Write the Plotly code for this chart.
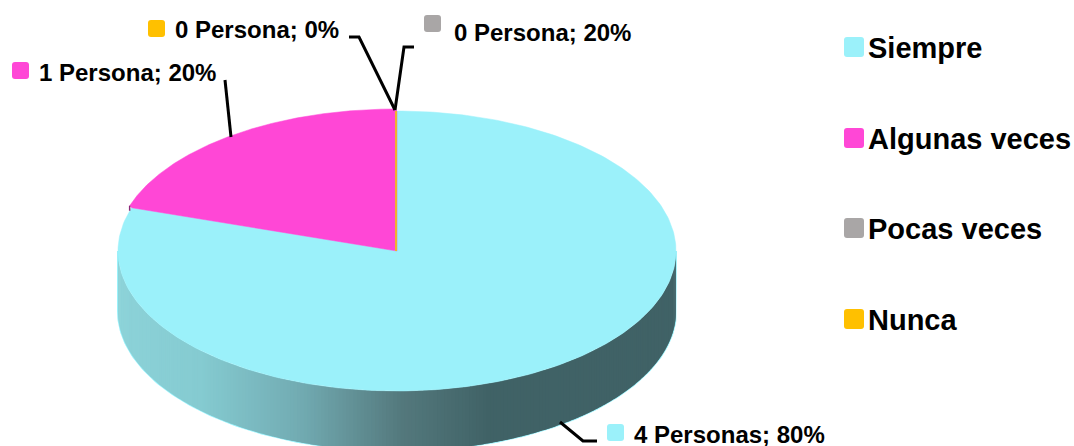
import numpy as np
import plotly.graph_objects as go

# ---- data ----
categories = ["Siempre", "Algunas veces", "Pocas veces", "Nunca"]
personas = [4, 1, 0, 0]
point_labels = ["4 Personas; 80%", "1 Persona; 20%", "0 Persona; 20%", "0 Persona; 0%"]
colors = ["#9BF1FA", "#FF47D6", "#A9A6A6", "#FFC000"]

# ---- layout of the drawing (pixel-like axes) ----
W, H = 1074, 446
CX, CY, RX, RY, DEPTH = 397, 251, 279, 140, 60
offsets = [(0, 0), (-2, -2), (-1, 0), (-1, 0)]
label_pos = [(632, 434), (37, 72), (452, 32), (173, 29)]
swatch_pos = [(607, 424), (12, 62), (424, 15), (148, 20)]
leaders = [
    [(560, 422), (583, 441), (597, 441)],
    [(225, 80), (231, 137)],
    [(414, 47), (404, 47), (395, 110)],
    [(349, 37), (359, 37), (395, 110)],
]
legend_y = [48, 139, 229, 320]
wall_stops_x = [118, 200, 300, 400, 490, 676]
wall_stops_rgb = [(141, 211, 217), (133, 203, 209), (114, 171, 178), (84, 121, 125), (64, 98, 102), (64, 98, 102)]


def ell(theta, dx=0, dy=0, dz=0):
    """theta is clockwise from 12 o'clock, in radians."""
    return CX + dx + RX * np.sin(theta), CY + dy + dz - RY * np.cos(theta)


def rounded(x0, y0, s, r=3):
    x1, y1 = x0 + s, y0 + s
    return (f"M{x0+r},{y0} L{x1-r},{y0} Q{x1},{y0} {x1},{y0+r} L{x1},{y1-r} Q{x1},{y1} {x1-r},{y1} "
            f"L{x0+r},{y1} Q{x0},{y1} {x0},{y1-r} L{x0},{y0+r} Q{x0},{y0} {x0+r},{y0} Z")


fig = go.Figure()
total = sum(personas)
shares = np.array(personas) / total
ends = np.cumsum(shares) * 2 * np.pi
starts = ends - shares * 2 * np.pi

# bright rim around the wall, drawn beneath it
ts = np.linspace(np.pi / 2, 3 * np.pi / 2, 181)
xb, yb = ell(ts, dz=DEPTH)
xt, yt = ell(np.array([np.pi / 2, 3 * np.pi / 2]))
fig.add_trace(go.Scatter(x=np.r_[xt[0], xb, xt[1]], y=np.r_[yt[0], yb, yt[1]], mode="lines",
                         line=dict(color=colors[0], width=2), hoverinfo="skip", showlegend=False))

# side wall of the front half; each strip overlaps the previous one so no seams show
edges = np.linspace(np.pi / 2, 3 * np.pi / 2, 241)
for k in range(len(edges) - 1):
    a = edges[max(k - 1, 0)]
    b = edges[k + 1]
    ts = np.linspace(a, b, 5)
    xt, yt = ell(ts)
    xb, yb = ell(ts[::-1], dz=DEPTH)
    xm = float(ell(np.array([edges[k]]))[0][0])
    rgb = [np.interp(xm, wall_stops_x, [c[i] for c in wall_stops_rgb]) for i in range(3)]
    col = "rgb(%d,%d,%d)" % tuple(rgb)
    fig.add_trace(go.Scatter(x=np.r_[xt, xb], y=np.r_[yt, yb], mode="none", fill="toself",
                             fillcolor=col, hoverinfo="skip", showlegend=False))

# top face
for i in range(len(categories)):
    dx, dy = offsets[i]
    if personas[i] > 0:
        ts = np.linspace(starts[i], ends[i], 300)
        xs, ys = ell(ts, dx, dy)
        xa, ya = ell(np.array([starts[i], ends[i]]))
        fig.add_trace(go.Scatter(x=np.r_[CX, xa[0], xs, xa[1], CX], y=np.r_[CY, ya[0], ys, ya[1], CY],
                                 mode="lines", fill="toself", fillcolor=colors[i],
                                 line=dict(color=colors[i], width=0.5), name=categories[i],
                                 hoverinfo="name", showlegend=False))
    else:
        xs, ys = ell(np.array([starts[i]]), dx, dy)
        fig.add_trace(go.Scatter(x=[CX + dx, xs[0]], y=[CY + dy, ys[0]], mode="lines",
                                 line=dict(color=colors[i], width=1.5), name=categories[i],
                                 hoverinfo="name", showlegend=False))

# small dark sliver at the corner of the back slice
x0, y0 = ell(np.array([starts[1]]), *offsets[1])
fig.add_shape(type="line", x0=float(x0[0]), y0=float(y0[0]), x1=float(x0[0]), y1=float(y0[0]) + 5,
              line=dict(color="#8A2A78", width=1.5), layer="above")

for pts in leaders:
    fig.add_trace(go.Scatter(x=[p[0] for p in pts], y=[p[1] for p in pts], mode="lines",
                             line=dict(color="#000000", width=3), hoverinfo="skip", showlegend=False))

for i, (lab, (lx, ly), (sx, sy)) in enumerate(zip(point_labels, label_pos, swatch_pos)):
    fig.add_annotation(x=lx, y=ly, text=f"<b>{lab}</b>", showarrow=False, xanchor="left", yanchor="middle",
                       font=dict(family="Liberation Sans", size=24, color="#000000"))
    fig.add_shape(type="path", path=rounded(sx, sy, 17), fillcolor=colors[i], line=dict(width=0))

for cat, col, y in zip(categories, colors, legend_y):
    fig.add_annotation(x=866, y=y, text=f"<b>{cat}</b>", showarrow=False, xanchor="left", yanchor="middle",
                       font=dict(family="Liberation Sans", size=29, color="#000000"))
    fig.add_shape(type="path", path=rounded(844, y - 11, 20), fillcolor=col, line=dict(width=0))

fig.update_layout(
    width=W, height=H, margin=dict(l=0, r=0, t=0, b=0),
    paper_bgcolor="#FFFFFF", plot_bgcolor="#FFFFFF", showlegend=False,
    xaxis=dict(range=[0, W], visible=False, fixedrange=True),
    yaxis=dict(range=[H, 0], visible=False, fixedrange=True),
)
fig.write_html("out.html", config={"displayModeBar": False},
               post_script="document.body.style.margin='0';document.body.style.overflow='hidden';")
